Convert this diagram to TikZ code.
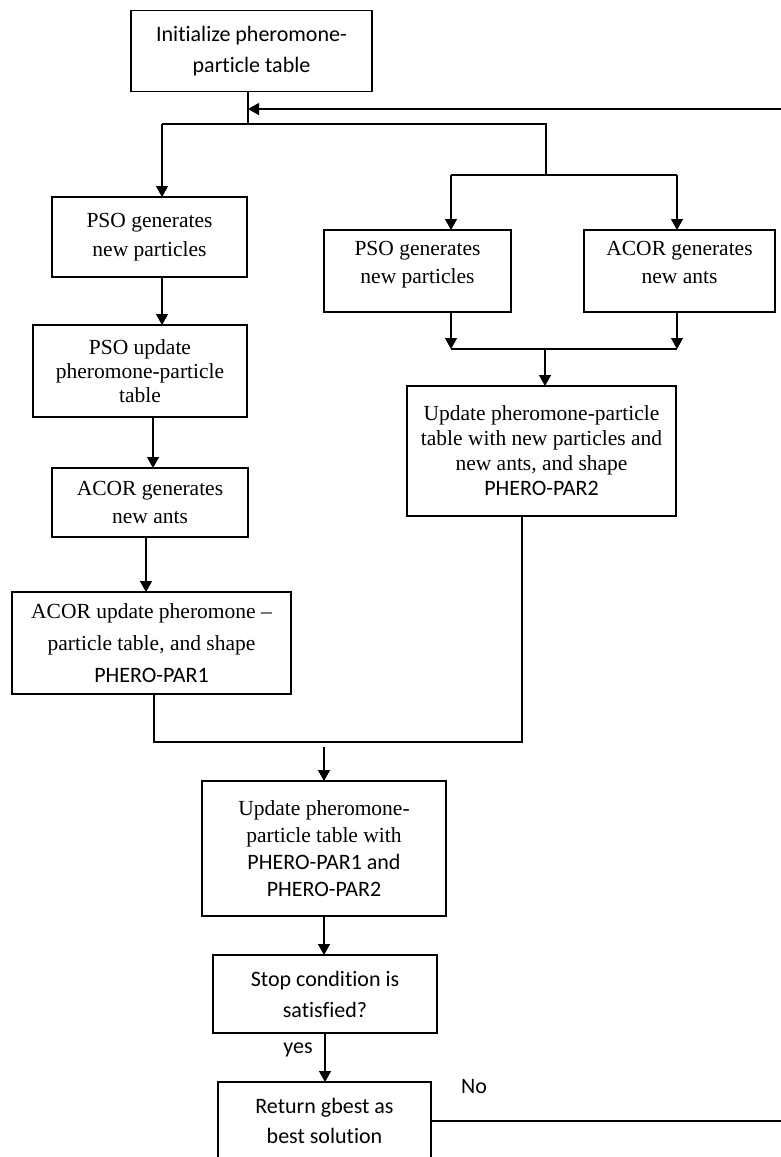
\documentclass[tikz,border=0pt]{standalone}
\usepackage{fontspec}
\setmainfont{Liberation Serif}
\newfontfamily\sansc[Ligatures={NoCommon}]{Carlito}
\usetikzlibrary{arrows.meta}
\newcommand\rmf{\rmfamily\fontsize{21.5}{26}\selectfont}
\newcommand\sff{\sansc\fontsize{22}{31}\selectfont}
\begin{document}
\begin{tikzpicture}[x=1pt,y=-1pt,
  box/.style={draw, line width=1.3pt, outer sep=0pt, inner sep=2pt, align=center, text=black},
  conn/.style={line width=1.3pt},
  arr/.style={line width=1.3pt, -{Triangle[length=11pt,width=12pt]}},
  lbl/.style={font=\sff, text=black}]
\useasboundingbox (0,0) rectangle (780,1157);
% nodes
\node[box, font=\sansc\fontsize{22}{31}\selectfont, minimum width=241pt, minimum height=81pt] (init) at (251.5,51) {Initialize pheromone-\\particle table};
\node[box, font=\rmfamily\fontsize{21.5}{29}\selectfont, minimum width=195pt, minimum height=80pt] (pso1) at (149.5,237) {PSO generates\\new particles};
\node[box, font=\rmfamily\fontsize{21.5}{24}\selectfont, minimum width=214pt, minimum height=92pt] (psoup) at (140,371) {PSO update\\pheromone-particle\\table};
\node[box, font=\rmfamily\fontsize{21.5}{28}\selectfont, minimum width=196pt, minimum height=69pt] (acor1) at (150,502.5) {ACOR generates\\new ants};
\node[box, font=\rmfamily\fontsize{21.5}{32}\selectfont, minimum width=279pt, minimum height=102pt] (acorup) at (151.5,643) {\rmf ACOR update pheromone --\\\rmf particle table, and shape\\\sff PHERO-PAR1};
\node[box, font=\rmfamily\fontsize{21.5}{28}\selectfont, minimum width=187pt, minimum height=82pt] (pso2) at (417.5,271) {PSO generates\\new particles\\[-10pt]};
\node[box, font=\rmfamily\fontsize{21.5}{28}\selectfont, minimum width=191pt, minimum height=82pt] (acor2) at (679.5,271) {ACOR generates\\new ants\\[-10pt]};
\node[box, font=\rmfamily\fontsize{21.5}{25}\selectfont, minimum width=269pt, minimum height=130pt] (upd2) at (541.5,451) {\rmf Update pheromone-particle\\\rmf table with new particles and\\\rmf new ants, and shape\\\sff PHERO-PAR2};
\node[box, font=\rmfamily\fontsize{21.5}{27}\selectfont, minimum width=244pt, minimum height=135pt] (upd) at (324,848.5) {\rmf Update pheromone-\\\rmf particle table with\\\sff PHERO-PAR1 and\\\sff PHERO-PAR2};
\node[box, font=\sansc\fontsize{22}{31}\selectfont, minimum width=224pt, minimum height=78pt] (stop) at (325,994) {Stop condition is\\satisfied?};
\node[box, font=\sansc\fontsize{22}{30}\selectfont, minimum width=213pt, minimum height=108pt] (ret) at (324.5,1136) {Return gbest as\\best solution\\~};
% junction coordinates
\coordinate (j1) at (248,124);
\coordinate (jl) at (162,124);
\coordinate (jr) at (546,124);
\coordinate (jr2) at (546,175);
\coordinate (ja) at (451,175);
\coordinate (jb) at (677,175);
\coordinate (ma) at (451,349);
\coordinate (mb) at (677,349);
\coordinate (mc) at (545,349);
\coordinate (l1) at (154,742);
\coordinate (l2) at (522,742);
\coordinate (m3) at (324,747);
\coordinate (fb1) at (790,1121);
\coordinate (fb2) at (790,109);
\coordinate (fb3) at (248,109);
% connectors
\draw[conn] (init.south -| j1) -- (j1);
\draw[conn] (jl) -- (jr) -- (jr2);
\draw[conn] (ja) -- (jb);
\draw[arr] (jl) -- (pso1.north -| jl);
\draw[arr] (ja) -- (pso2.north -| ja);
\draw[arr] (jb) -- (acor2.north -| jb);
\draw[arr] (pso1.south -| jl) -- (psoup.north -| jl);
\draw[arr] (psoup.south -| 153,0) -- (acor1.north -| 153,0);
\draw[arr] (acor1.south -| 146,0) -- (acorup.north -| 146,0);
\draw[arr] (pso2.south -| ma) -- (ma);
\draw[arr] (acor2.south -| mb) -- (mb);
\draw[conn] (ma) -- (mb);
\draw[arr] (mc) -- (upd2.north -| mc);
\draw[conn] (acorup.south -| l1) -- (l1) -- (l2) -- (upd2.south -| l2);
\draw[arr] (m3) -- (upd.north -| m3);
\draw[arr] (upd.south -| 324,0) -- (stop.north -| 324,0);
\draw[arr] (stop.south -| 325,0) -- (ret.north -| 325,0);
\node[lbl] (yes) at (298,1050) {yes};
\draw[arr] (ret.east |- fb1) -- (fb1) -- (fb2) -- (fb3);
\node[lbl] (no) at (474,1087) {No};
\end{tikzpicture}
\end{document}
